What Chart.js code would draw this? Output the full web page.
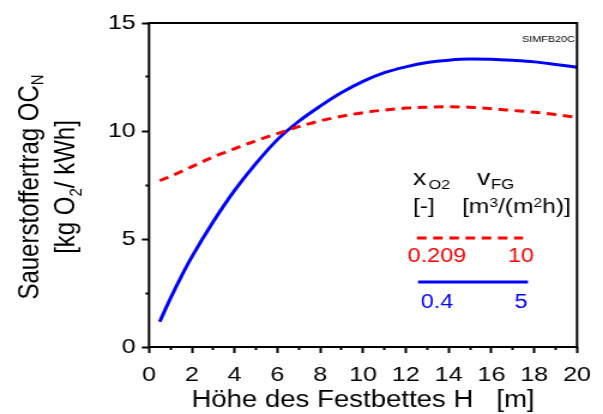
<!DOCTYPE html>
<html lang="de">

<head>
    <meta charset="UTF-8">
    <title>Sauerstoffertrag - Festbett</title>
    <style>
        body { margin: 0; background: #fff; overflow: hidden; }
        /* Vorlage ist horizontal gestreckt, daher scaleX */
        #wrap { width: 503px; height: 414px; transform: scaleX(1.19881); transform-origin: 0 0; }
    </style>
</head>

<body>
    <div id="wrap">
        <canvas id="myChart01" width="503" height="414"></canvas>
    </div>
    <script src="https://cdn.jsdelivr.net/npm/chart.js"></script>
    <script>
        // Höhe des Festbettes H [m]
        var hoehe = [0.5, 1, 1.5, 2, 3, 4, 5, 6, 7, 8, 9, 10, 11, 12, 13, 14, 15, 16, 17, 18, 19, 20];
        // OC_N für x_O2 = 0.209, v_FG = 10 (rot, gestrichelt)
        var ocLuft = [7.7, 7.9, 8.12, 8.35, 8.8, 9.18, 9.55, 9.88, 10.2, 10.47, 10.68, 10.85, 10.97, 11.06, 11.1, 11.12, 11.1, 11.03, 10.95, 10.87, 10.76, 10.63];
        // OC_N für x_O2 = 0.4, v_FG = 5 (blau)
        var ocSauerstoff = [1.17, 2.25, 3.25, 4.17, 5.8, 7.25, 8.5, 9.6, 10.45, 11.15, 11.78, 12.3, 12.7, 12.97, 13.17, 13.28, 13.33, 13.32, 13.27, 13.2, 13.08, 12.95];
        // Legende
        var xO2 = ['0.209', '0.4'];
        var vFG = ['10', '5'];
        var farben = ['#ff0000', '#0000ff'];
        // Achsen
        var xTicks = [0, 20, 1];      // min, max, Schritt (Beschriftung jede 2)
        var yTicks = [0, 15, 2.5];    // min, max, Schritt (Beschriftung jede 5)

        var FONT = '"Liberation Sans", Arial, sans-serif';
        Chart.defaults.font.family = FONT;
        Chart.defaults.color = '#000';

        function punkte(werte) {
            return hoehe.map(function (h, i) { return { x: h, y: werte[i] }; });
        }

        // Text mit Tief-/Hochstellung
        function rich(ctx, parts, x, y, align) {
            var w = 0;
            parts.forEach(function (p) {
                ctx.font = p[1] + 'px ' + FONT;
                w += ctx.measureText(p[0]).width;
            });
            var cx = align === 'center' ? x - w / 2 : (align === 'right' ? x - w : x);
            ctx.textAlign = 'left';
            ctx.textBaseline = 'alphabetic';
            parts.forEach(function (p) {
                ctx.font = p[1] + 'px ' + FONT;
                ctx.fillText(p[0], cx, y + (p[2] || 0));
                cx += ctx.measureText(p[0]).width;
            });
        }

        var textPlugin = {
            id: 'texte',
            afterDraw: function (chart) {
                var ctx = chart.ctx;
                var a = chart.chartArea;
                ctx.save();
                // Rahmen
                ctx.strokeStyle = '#000';
                ctx.lineWidth = 2;
                ctx.strokeRect(a.left, a.top, a.right - a.left, a.bottom - a.top);

                ctx.fillStyle = '#000';
                // x-Achsentitel
                rich(ctx, [['Höhe des Festbettes H   [m]', 23]], (a.left + a.right) / 2, 407, 'center');

                // y-Achsentitel (gedreht)
                ctx.save();
                ctx.translate(0, 187);
                ctx.rotate(-Math.PI / 2);
                rich(ctx, [['Sauerstoffertrag OC', 24], ['N', 15, 4]], 0, 31.7, 'center');
                rich(ctx, [['[kg O', 24], ['2', 15, 6], ['/ kWh]', 24]], 0, 61.7, 'center');
                ctx.restore();

                // Kennung
                rich(ctx, [['SIMFB20C', 9]], 479.6, 41.5, 'right');

                // Legende Kopf
                rich(ctx, [['x', 22]], 344.5, 185, 'left');
                rich(ctx, [['O2', 13.5]], 357.5, 189, 'left');
                rich(ctx, [['v', 22]], 397.9, 185, 'left');
                rich(ctx, [['FG', 14]], 409.5, 189, 'left');
                rich(ctx, [['[-]', 20.5]], 344.5, 213, 'left');
                rich(ctx, [['[m', 20.5], ['3', 13, -6], ['/(m', 20.5], ['2', 13, -6], ['h)]', 20.5]], 385.4, 213, 'left');

                // Legende Linien und Werte
                var linien = [[347.8, 436.3, 238, [8, 5.5]], [348.7, 440.4, 282, []]];
                var textY = [262, 308];
                for (var i = 0; i < xO2.length; i++) {
                    ctx.strokeStyle = farben[i];
                    ctx.lineWidth = 3;
                    ctx.setLineDash(linien[i][3]);
                    ctx.beginPath();
                    ctx.moveTo(linien[i][0], linien[i][2]);
                    ctx.lineTo(linien[i][1], linien[i][2]);
                    ctx.stroke();
                    ctx.setLineDash([]);
                    ctx.fillStyle = farben[i];
                    rich(ctx, [[xO2[i], 19.5]], 364.5, textY[i], 'center');
                    rich(ctx, [[vFG[i], 19.5]], 434.6, textY[i], 'center');
                }
                ctx.restore();
            }
        };

        var ctx01 = document.getElementById('myChart01');
        var chart01 = new Chart(ctx01, {
            type: 'line',
            data: {
                datasets: [{
                    label: 'x_O2 = ' + xO2[0],
                    data: punkte(ocLuft),
                    borderColor: farben[0],
                    borderWidth: 3,
                    borderDash: [8, 5.5],
                    borderCapStyle: 'butt',
                    pointRadius: 0,
                    cubicInterpolationMode: 'monotone',
                    fill: false
                }, {
                    label: 'x_O2 = ' + xO2[1],
                    data: punkte(ocSauerstoff),
                    borderColor: farben[1],
                    borderWidth: 3,
                    pointRadius: 0,
                    cubicInterpolationMode: 'monotone',
                    fill: false
                }]
            },
            options: {
                responsive: false,
                animation: false,
                devicePixelRatio: 1,
                layout: { padding: { top: 23, right: 17.5, left: 0, bottom: 0 } },
                plugins: { legend: { display: false }, tooltip: { enabled: false } },
                scales: {
                    x: {
                        type: 'linear',
                        min: xTicks[0],
                        max: xTicks[1],
                        afterFit: function (s) { s.height = 67; },
                        border: { display: false },
                        grid: {
                            drawOnChartArea: false,
                            drawTicks: true,
                            tickLength: 6,
                            tickWidth: 2,
                            tickColor: '#000',
                            tickBorderDash: function (c) { return (c.tick && c.tick.value % 2 !== 0) ? [3, 20] : []; }
                        },
                        ticks: {
                            stepSize: xTicks[2],
                            autoSkip: false,
                            maxRotation: 0,
                            padding: 10,
                            font: { size: 21 },
                            callback: function (v) { return v % 2 === 0 ? v : ''; }
                        }
                    },
                    y: {
                        min: yTicks[0],
                        max: yTicks[1],
                        afterFit: function (s) { s.width = 124.3; },
                        border: { display: false },
                        grid: {
                            drawOnChartArea: false,
                            drawTicks: true,
                            tickLength: 6,
                            tickWidth: 2,
                            tickColor: '#000',
                            tickBorderDash: function (c) { return (c.tick && c.tick.value % 5 !== 0) ? [3, 3] : []; },
                            tickBorderDashOffset: function (c) { return (c.tick && c.tick.value % 5 !== 0) ? 3 : 0; }
                        },
                        ticks: {
                            stepSize: yTicks[2],
                            padding: 5,
                            font: { size: 21 },
                            callback: function (v) { return v % 5 === 0 ? v : ''; }
                        }
                    }
                }
            },
            plugins: [textPlugin]
        });
    </script>
</body>

</html>
